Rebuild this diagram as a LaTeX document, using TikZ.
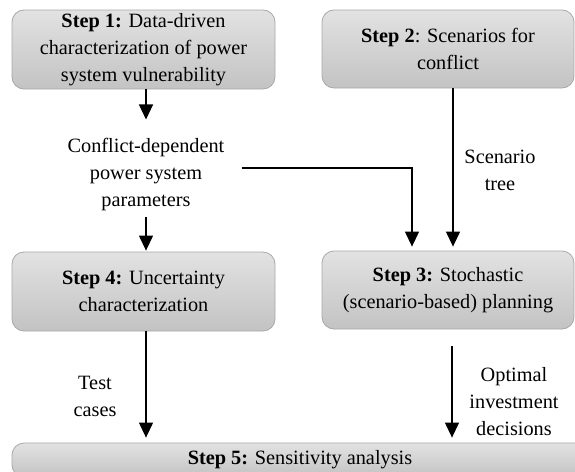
\documentclass[tikz,border=0pt]{standalone}
\usepackage{fontspec}
\setmainfont{Liberation Serif}
\usetikzlibrary{arrows.meta}
\definecolor{boxtop}{HTML}{E2E2E2}
\definecolor{boxbot}{HTML}{C3C3C3}
\definecolor{boxedge}{HTML}{A8A8A8}
\begin{document}
\begin{tikzpicture}[x=1pt,y=-1pt,
  every node/.style={font=\fontsize{20.3}{27}\selectfont},
  stepbox/.style={draw=boxedge, line width=0.8pt, rounded corners=12pt,
    top color=boxtop, bottom color=boxbot, align=center, inner sep=0pt},
  lbl/.style={align=center, inner sep=2pt},
  arr/.style={line width=1.2pt, -{Triangle[width=14pt,length=15pt]}}]
\useasboundingbox (0,0) rectangle (575,471);
\clip (0,0) rectangle (575,471);

\node[stepbox, minimum width=263pt, minimum height=79pt] (s1) at (143.5,49.5)
  {\textbf{Step 1:} Data-driven\\characterization of power\\system vulnerability};
\node[stepbox, minimum width=252pt, minimum height=78pt] (s2) at (448,49)
  {\textbf{Step 2}: Scenarios for\\conflict};
\node[stepbox, minimum width=252pt, minimum height=78pt] (s3) at (448,290)
  {\textbf{Step 3:} Stochastic\\(scenario-based) planning};
\node[stepbox, minimum width=263pt, minimum height=79pt] (s4) at (143.5,291.5)
  {\textbf{Step 4:} Uncertainty\\characterization};
\node[stepbox, minimum width=576pt, minimum height=34pt] (s5) at (300,460)
  {\textbf{Step 5:} Sensitivity analysis};

\node[lbl] (params) at (146,175) {Conflict-dependent\\power system\\parameters};
\node[lbl] (tree) at (500,170) {Scenario\\tree};
\node[lbl] (test) at (95,396) {Test\\cases};
\node[lbl] (optimal) at (514,402) {Optimal\\investment\\decisions};

\draw[arr, shorten >=17pt] (params.north |- s1.south) -- (params.north);
\draw[arr, shorten <=3pt, shorten >=1pt] (params.south) -- (params.south |- s4.north);
\draw[arr, shorten >=4pt] ([xshift=15pt,yshift=7pt]params.east) -| ([xshift=-36pt]s3.north);
\draw[arr, shorten >=4pt] ([xshift=5pt]s2.south) -- ([xshift=5pt]s3.north);
\draw[arr, shorten >=5pt] (params.south |- s4.south) -- (params.south |- s5.north);
\draw[arr, shorten <=17pt, shorten >=5pt] ([xshift=4pt]s3.south) -- ([xshift=4pt]s3.south |- s5.north);
\end{tikzpicture}
\end{document}
